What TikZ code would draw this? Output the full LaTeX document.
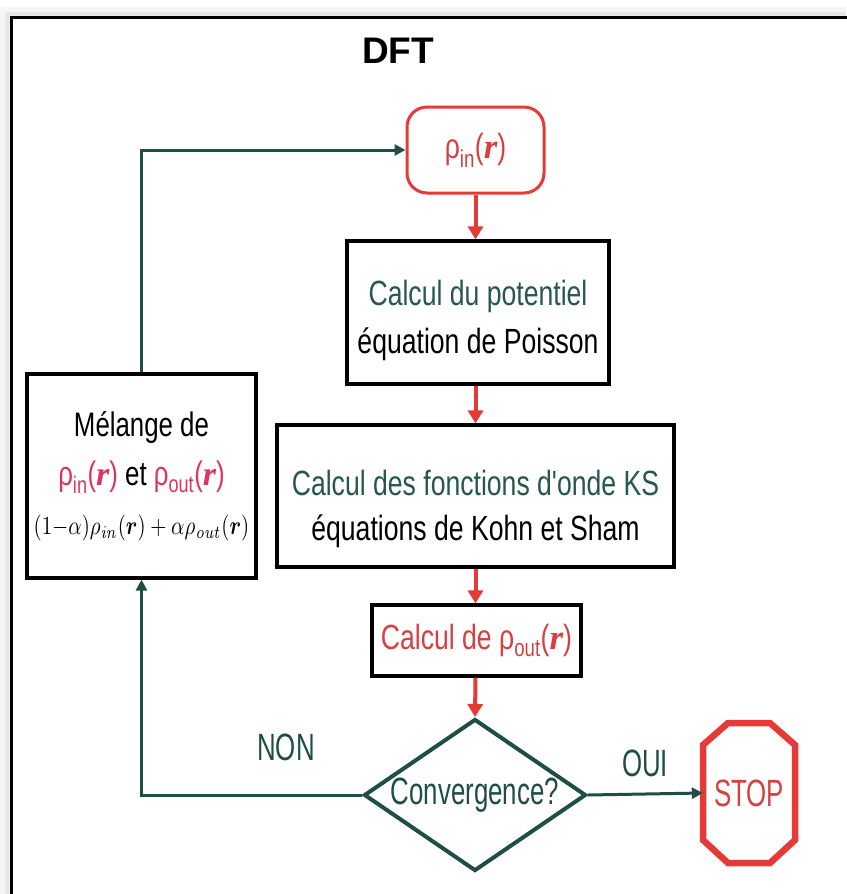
\documentclass[tikz,border=0pt]{standalone}
\usepackage{graphicx}
\usepackage{amsmath,bm}
\usepackage[no-math]{fontspec}
\setmainfont{Liberation Sans}
\newfontfamily\nar[FakeStretch=0.76]{Liberation Sans}
\newfontfamily\cond[FakeStretch=0.68]{Liberation Sans}
\newfontfamily\serifr{Liberation Serif}
\usetikzlibrary{arrows.meta,shapes.geometric}

\definecolor{loopteal}{RGB}{30,78,70}
\definecolor{tealtext}{RGB}{40,86,80}
\definecolor{arrowred}{RGB}{228,58,56}
\definecolor{redtext}{RGB}{214,64,64}
\definecolor{pinktext}{RGB}{222,52,96}

% bold italic position vector and subscripted densities
\newcommand\rvec{{\serifr\bfseries\itshape r}}
\newcommand\rhosub[1]{ρ\textsubscript{#1}}
% invisible strut that lowers a text block inside its box
\newcommand\lowerby[1]{\rule{0pt}{#1}}

\tikzset{
  box/.style={draw=black, line width=3.2pt, fill=white, inner sep=0pt, align=center},
  boxfont/.style={font=\nar\fontsize{35}{#1}\selectfont},
  labelfont/.style={font=\cond\fontsize{38}{40}\selectfont},
  redarrow/.style={draw=arrowred, line width=4pt, -{Triangle[width=15pt,length=13pt]}},
  looparrow/.style={draw=loopteal, line width=3pt, -{Triangle[width=11pt,length=11pt]}},
}

\begin{document}
\begin{tikzpicture}[x=1pt,y=-1pt]
  \useasboundingbox (0,0) rectangle (846,894);
  % page shadow and frame
  \fill[white] (0,0) rectangle (846,894);
  \fill[gray!8] (0,7) rectangle (846,894);
  \fill[gray!18] (5,12) rectangle (846,894);
  \fill[white] (11,17) rectangle (846,894);
  \draw[line width=2.6pt] (11.5,900) -- (11.5,17.5) -- (850,17.5);

  \node[font=\bfseries\fontsize{37}{40}\selectfont] (title) at (398,51) {DFT};

  % main column
  \node[draw=arrowred, line width=3pt, rounded corners=20pt, fill=white,
        minimum width=137, minimum height=86, inner sep=0pt,
        font=\nar\fontsize{35}{40}\selectfont, text=redtext] (rhoin) at (475.5,150)
        {\rhosub{in}(\rvec)};
  \node[box, boxfont=48, minimum width=262, minimum height=143] (pot) at (478,312.5)
        {\lowerby{41pt}{\color{tealtext}Calcul du potentiel}\\équation de Poisson};
  \node[box, boxfont=45, minimum width=397, minimum height=142] (ks) at (475.5,496)
        {\lowerby{51pt}{\color{tealtext}Calcul des fonctions d'onde KS}\\équations de Kohn et Sham};
  \node[box, boxfont=40, minimum width=209, minimum height=71, text=redtext] (rhoout) at (476.5,640.5)
        {Calcul de \rhosub{out}(\rvec)};
  \node[diamond, draw=loopteal, line width=4pt, fill=white, inner sep=0pt,
        minimum width=222, minimum height=152,
        label={[labelfont, text=loopteal]center:Convergence?}] (conv) at (475,795) {};

  % stop sign
  \node[minimum width=92, minimum height=140, inner sep=0pt,
        labelfont, text=redtext] (stop) at (749,793) {STOP};
  \draw[draw=arrowred, line width=6.5pt, line join=miter, shift={(stop.center)}]
    (-21,-70) -- (21,-70) -- (46,-48) -- (46,47) -- (21,70) -- (-21,70)
    -- (-46,47) -- (-46,-48) -- cycle;

  % mixing box
  \node[box, minimum width=229, minimum height=204,
        font=\nar\fontsize{34}{49}\selectfont] (mix) at (141.5,476)
        {Mélange de\\
         {\color{pinktext}\rhosub{in}(\rvec)} et {\color{pinktext}\rhosub{out}(\rvec)}\\
         \makebox[0pt]{\scalebox{2.08}[2.6]{\normalsize$(1{-}\alpha)\rho_{\mathit{in}}(\bm{r})+\alpha\rho_{\mathit{out}}(\bm{r})$}}};

  % red flow
  \draw[redarrow] (rhoin.south) -- (rhoin.south |- pot.north);
  \draw[redarrow] (rhoin.south |- pot.south) -- (rhoin.south |- ks.north);
  \draw[redarrow] (rhoin.south |- ks.south) -- (rhoin.south |- rhoout.north);
  \draw[redarrow] (rhoin.south |- rhoout.south) -- (conv.north);

  % decision branches and loop
  \draw[looparrow] (conv.east) -- (stop.west);
  \draw[looparrow] (conv.west) -| (mix.south);
  \draw[looparrow] (mix.north) |- (rhoin.west);

  \node[labelfont, text=loopteal] (oui) at (645,763) {OUI};
  \node[labelfont, text=loopteal] (non) at (286,747) {NON};
\end{tikzpicture}
\end{document}
